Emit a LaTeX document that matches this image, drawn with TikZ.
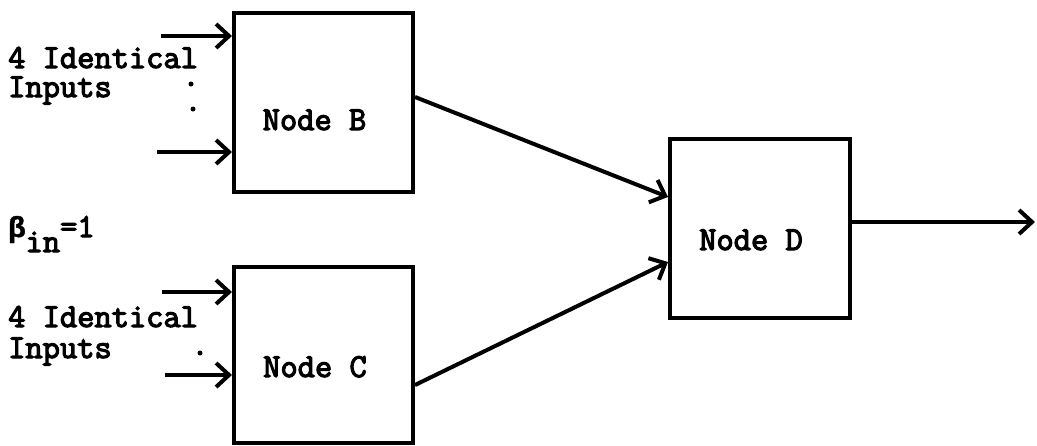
\documentclass[tikz,border=0pt]{standalone}
\usepackage{fontspec}
\setmainfont{Liberation Mono}
\newfontfamily\courb[FakeBold=3.5]{Latin Modern Mono}
\newfontfamily\greekf[FakeBold=1.5]{Liberation Mono}
\usetikzlibrary{arrows.meta}
\tikzset{
  box/.style={draw, line width=4pt, minimum width=179pt, minimum height=179pt, inner sep=0pt},
  arr/.style={line width=4pt, -{Straight Barb[length=13pt,width=24pt]}},
  txt/.style={font=\courb\fontsize{33.5}{32}\selectfont, inner sep=0pt},
  dotm/.style={circle, fill, inner sep=0pt, minimum size=5pt}
}
\begin{document}
\begin{tikzpicture}[x=1pt,y=-1pt]
\useasboundingbox (0,0) rectangle (1037,445);
\node[box] (B) at (323.5,102.5) {};
\node[box, minimum height=176pt] (C) at (323.5,355) {};
\node[box, minimum width=180pt] (D) at (760,228.5) {};
\node[txt, anchor=base] (tB) at (314.5,130) {Node B};
\node[txt, anchor=base] (tC) at (315,377) {Node C};
\node[txt, anchor=base] (tD) at (751,250) {Node D};
% inputs B
\node[txt, align=left, anchor=base west] (l1) at (8,97) {4 Identical\\[-3pt]Inputs};
\coordinate (b1) at (161,36);
\coordinate (b2) at (157,152);
\draw[arr] (b1) -- (b1 -| B.west);
\draw[arr] (b2) -- (b2 -| B.west);
\node[dotm] (d1) at (191,84) {};
\node[dotm] (d2) at (193,109) {};
% beta
\node[txt, anchor=base west] (beta) at (8,237) {{\greekf\fontsize{29}{32}\bfseries\selectfont β}\raisebox{-15pt}{in}=1};
% inputs C
\node[txt, align=left, anchor=base west] (l3) at (8,358) {4 Identical\\[-1pt]Inputs};
\coordinate (c1) at (162,292);
\coordinate (c2) at (165,375);
\draw[arr] (c1) -- (c1 -| C.west);
\draw[arr] (c2) -- (c2 -| C.west);
\node[dotm] (d3) at (200,353) {};
% connectors
\coordinate (bo) at (413,97);
\coordinate (co) at (413,385);
\coordinate (di1) at (670,197);
\coordinate (di2) at (670,262);
\draw[arr] (B.east |- bo) -- (di1 -| D.west);
\draw[arr] (C.east |- co) -- (di2 -| D.west);
\coordinate (out) at (1035,222);
\draw[arr] (D.east |- out) -- (out);
\end{tikzpicture}
\end{document}
